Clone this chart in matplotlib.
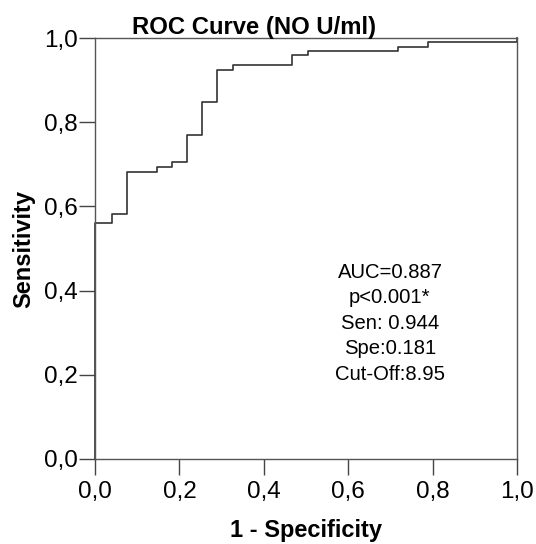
import matplotlib
matplotlib.use("Agg")
import matplotlib.pyplot as plt

plt.rcParams['font.family'] = ['Liberation Sans', 'DejaVu Sans']

# ROC points (1 - specificity, sensitivity)
fpr = [0.0, 0.0, 0.041, 0.075, 0.146, 0.182, 0.219, 0.254, 0.290, 0.326, 0.468, 0.504, 0.717, 0.788, 1.0]
tpr = [0.0, 0.561, 0.583, 0.682, 0.694, 0.705, 0.770, 0.848, 0.925, 0.937, 0.959, 0.968, 0.979, 0.990, 1.0]

ticks = [0.0, 0.2, 0.4, 0.6, 0.8, 1.0]
tick_labels = ['0,0', '0,2', '0,4', '0,6', '0,8', '1,0']
stats_lines = ['AUC=0.887', 'p<0.001*', 'Sen: 0.944', 'Spe:0.181', 'Cut-Off:8.95']

fig = plt.figure(figsize=(5.36, 5.44), dpi=100)
ax = fig.add_axes([95 / 536, 1 - 459 / 544, 422 / 536, 421 / 544])

ax.plot(fpr, tpr, drawstyle='steps-post', color='#333333', lw=1.2, clip_on=False)

ax.set_xlim(0, 1)
ax.set_ylim(0, 1)
ax.set_xticks(ticks)
ax.set_xticklabels(tick_labels)
ax.set_yticks(ticks)
ax.set_yticklabels(tick_labels)
ax.tick_params(direction='out', length=11.5, width=1.0, color='#444444',
               labelsize=17.5)
ax.tick_params(axis='x', pad=4)
ax.tick_params(axis='y', pad=1)
for s in ax.spines.values():
    s.set_color('#555555')
    s.set_linewidth(1.0)

ax.set_xlabel('1 - Specificity', fontsize=17, fontweight='bold', labelpad=12)
ax.set_ylabel('Sensitivity', fontsize=17, fontweight='bold', labelpad=6)

fig.text(254 / 536, 1 - 34 / 544, 'ROC Curve (NO U/ml)', fontsize=17.2,
         fontweight='bold', ha='center', va='baseline')

for i, line in enumerate(stats_lines):
    ax.text(0.699, 0.443 - i * 0.0605, line, fontsize=14.6, ha='center', va='center')

fig.savefig('out.png', dpi=100)
